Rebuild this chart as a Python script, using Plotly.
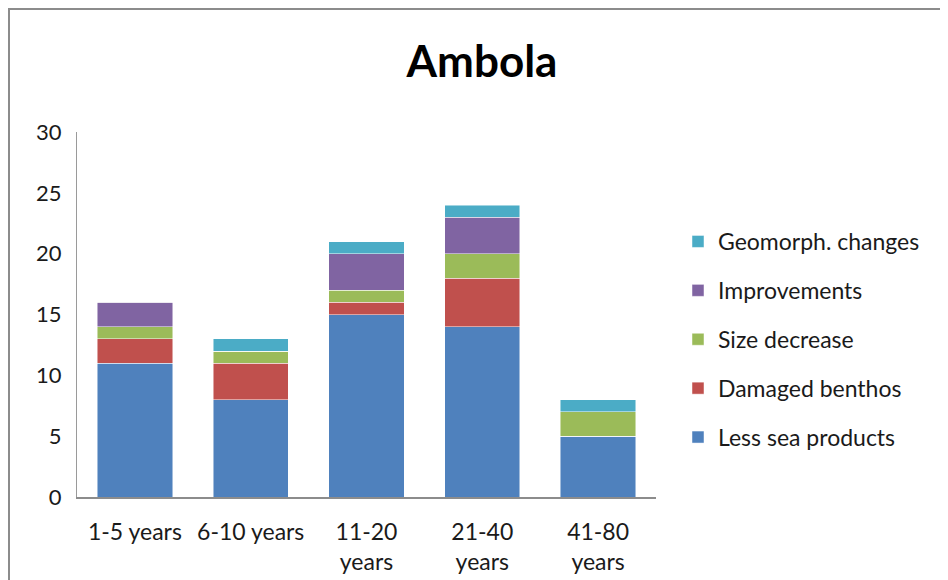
import plotly.graph_objects as go

categories = ["1-5 years", "6-10 years", "11-20<br>years", "21-40<br>years", "41-80<br>years"]
less_sea_products = [11, 8, 15, 14, 5]
damaged_benthos = [2, 3, 1, 4, 0]
size_decrease = [1, 1, 1, 2, 2]
improvements = [2, 0, 3, 3, 0]
geomorph_changes = [0, 1, 1, 1, 1]

series = [
    ("Less sea products", less_sea_products, "#4F81BD"),
    ("Damaged benthos", damaged_benthos, "#C0504D"),
    ("Size decrease", size_decrease, "#9BBB59"),
    ("Improvements", improvements, "#8064A2"),
    ("Geomorph. changes", geomorph_changes, "#4BACC6"),
]

FONT = "Lato"
OFF = 8  # page body margin

fig = go.Figure()
n = len(series)
for i, (name, vals, color) in enumerate(series):
    fig.add_trace(go.Bar(
        x=categories, y=vals, name=name, legendgroup=name, legendrank=n - i,
        marker=dict(color=color, line=dict(color="rgba(255,255,255,0.6)", width=0.8)),
    ))

W, H = 948 - OFF, 580 - OFF
L, R, T, B = 77 - OFF, 656 - OFF, 132 - OFF, 497 - OFF
pw, ph = R - L, B - T

fig.update_layout(
    width=W, height=H,
    barmode="stack", bargap=0.35,
    margin=dict(l=L, r=W - R, t=T, b=H - B, autoexpand=False),
    paper_bgcolor="white", plot_bgcolor="white",
    font=dict(family=FONT, size=22, color="#1a1a1a"),
    title=dict(text="<b>Ambola</b>", x=(482 - OFF) / W, xanchor="center", xref="container",
               y=1 - (62 - OFF) / H, yanchor="middle", yref="container",
               font=dict(family=FONT, size=44, color="black")),
    showlegend=True,
    legend=dict(x=(678 - OFF - L) / pw, xanchor="left", y=(B - (220 - OFF)) / ph, yanchor="top",
                traceorder="grouped", tracegroupgap=16,
                font=dict(family=FONT, size=23, color="#1a1a1a"),
                bgcolor="rgba(0,0,0,0)"),
    xaxis=dict(showline=True, linecolor="#8c8c8c", linewidth=1.5, showgrid=False, automargin=False,
               ticks="", ticklabelstandoff=14, tickfont=dict(size=23)),
    yaxis=dict(range=[0, 30], dtick=5, showline=True, linecolor="#9a9a9a", linewidth=1,
               showgrid=False, ticks="", ticklabelstandoff=10, zeroline=False, automargin=False,
               tickfont=dict(size=22)),
    shapes=[dict(type="rect", xref="paper", yref="paper",
                 x0=(1 - L) / pw, x1=(1000 - L) / pw,
                 y0=(B - 700) / ph, y1=(B - (9 - OFF)) / ph,
                 line=dict(color="#8c8c8c", width=2), fillcolor="rgba(0,0,0,0)", layer="below")],
)

fig.write_html("out.html")
